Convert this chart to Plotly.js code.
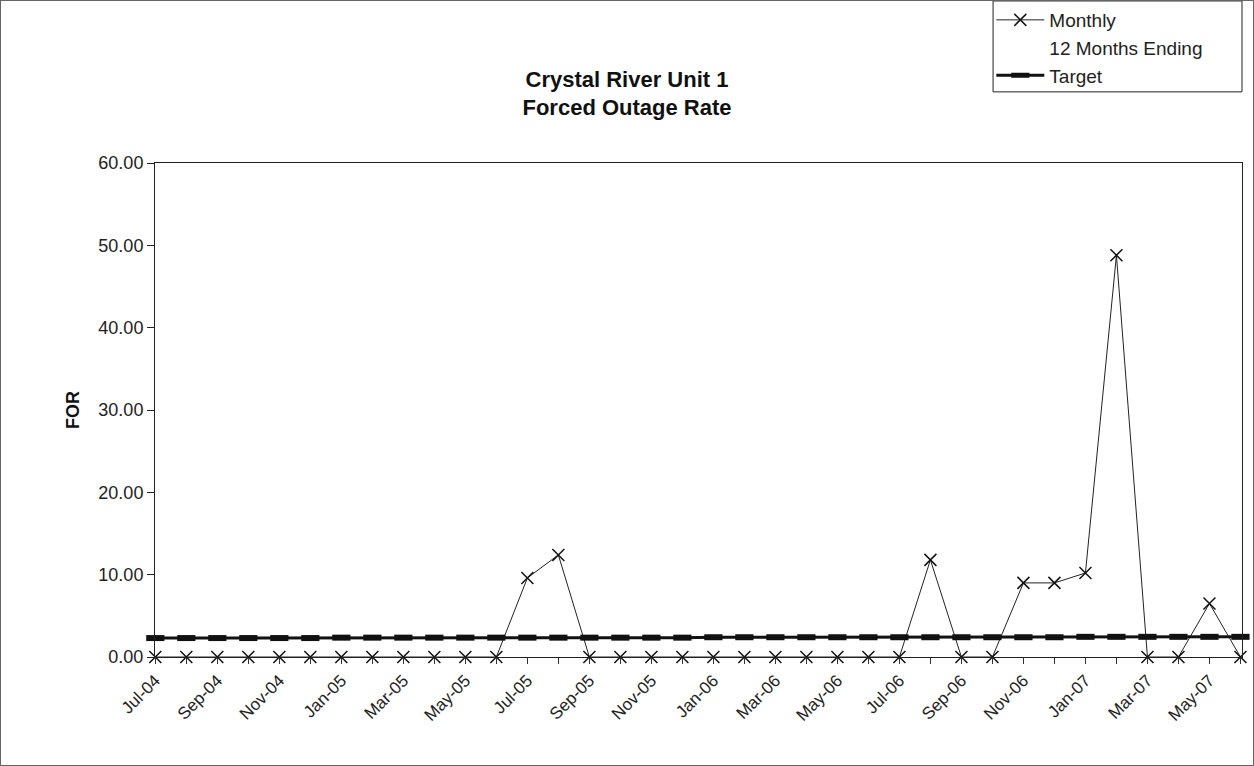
<!DOCTYPE html>
<html>
<head>
<meta charset="utf-8">
<script src="https://cdn.plot.ly/plotly-3.0.1.min.js"></script>
<style>
  html, body { margin: 0; padding: 0; background: #fff; }
  #chart { width: 1254px; height: 766px; box-sizing: border-box; border: 1px solid #666; }
</style>
</head>
<body>
<div id="chart"></div>
<script>
// Categories (months)
const months = ["Jul-04","Aug-04","Sep-04","Oct-04","Nov-04","Dec-04",
  "Jan-05","Feb-05","Mar-05","Apr-05","May-05","Jun-05",
  "Jul-05","Aug-05","Sep-05","Oct-05","Nov-05","Dec-05",
  "Jan-06","Feb-06","Mar-06","Apr-06","May-06","Jun-06",
  "Jul-06","Aug-06","Sep-06","Oct-06","Nov-06","Dec-06",
  "Jan-07","Feb-07","Mar-07","Apr-07","May-07","Jun-07"];

// Series values
const monthlyFOR = [0,0,0,0,0,0, 0,0,0,0,0,0,
  9.6,12.4,0,0,0,0, 0,0,0,0,0,0,
  0,11.8,0,0,9.0,9.0, 10.2,48.8,0,0,6.5,0];
const twelveMonthsEnding = [null,null,null,null,null,null, null,null,null,null,null,null,
  null,null,null,null,null,null, null,null,null,null,null,null,
  null,null,null,null,null,null, null,null,null,null,null,null];
const targetFOR = [2.3,2.3,2.3,2.3,2.3,2.3, 2.35,2.35,2.35,2.35,2.35,2.35,
  2.35,2.35,2.35,2.35,2.35,2.35, 2.4,2.4,2.4,2.4,2.4,2.4,
  2.4,2.4,2.4,2.4,2.4,2.4, 2.45,2.45,2.45,2.45,2.45,2.45];

// Tick labels (every other month shown)
const tickLabels = months.map((m, i) => (i % 2 === 0 ? m : ""));
const tickIdx = months.map((m, i) => i);

const FONT = "Liberation Sans, Arial, sans-serif";

const traces = [
  {
    name: "Monthly", x: months, y: monthlyFOR, type: "scatter", mode: "lines+markers",
    line: { color: "#222", width: 1 },
    marker: { symbol: "x-thin", size: 12, color: "#111", line: { color: "#111", width: 1.5 } },
    cliponaxis: false
  },
  {
    name: "12 Months Ending", x: months, y: twelveMonthsEnding, type: "scatter", mode: "lines",
    line: { color: "rgba(0,0,0,0)", width: 1 }, cliponaxis: false
  },
  {
    name: "Target", x: months, y: targetFOR, type: "scatter", mode: "lines+markers",
    line: { color: "#111", width: 3 },
    marker: { symbol: "line-ew", size: 13, color: "#111", line: { color: "#111", width: 6 } },
    cliponaxis: false
  }
];

const layout = {
  width: 1252, height: 764,
  paper_bgcolor: "#fff", plot_bgcolor: "#fff",
  margin: { l: 154, r: 11, t: 162, b: 108, autoexpand: false },
  font: { family: FONT, size: 17, color: "#222" },
  title: {
    text: "<b>Crystal River Unit 1<br>Forced Outage Rate</b>",
    font: { family: FONT, size: 22, color: "#111" },
    x: 0.5, xref: "container", xanchor: "center",
    y: 0.888, yref: "container", yanchor: "top"
  },
  showlegend: true,
  legend: {
    xref: "container", yref: "container",
    x: 0.791, xanchor: "left", y: 1.0, yanchor: "top",
    borderwidth: 0, bgcolor: "rgba(0,0,0,0)",
    font: { family: FONT, size: 19, color: "#222" },
    tracegroupgap: 0, itemwidth: 48
  },
  shapes: [
    { type: "rect", xref: "paper", yref: "paper", x0: 0.771, x1: 1.0, y0: 1.144, y1: 1.328,
      line: { color: "#222", width: 1 }, fillcolor: "rgba(0,0,0,0)", layer: "above" }
  ],
  xaxis: {
    type: "category", range: [-0.01, 35.05],
    tickmode: "array", tickvals: months, ticktext: tickLabels,
    tickangle: -45, ticks: "outside", ticklen: 6, tickcolor: "#333", tickwidth: 1,
    showline: true, linecolor: "#222", linewidth: 1, mirror: true,
    showgrid: false, zeroline: false,
    tickfont: { family: FONT, size: 17, color: "#222" }
  },
  xaxis2: {
    type: "linear", range: [-0.01, 35.05], overlaying: "x", anchor: "y", side: "bottom",
    tickmode: "array", tickvals: tickIdx, ticks: "inside", ticklen: 6, tickcolor: "#333",
    showticklabels: false, showline: false, showgrid: false, zeroline: false
  },
  yaxis: {
    range: [0, 60], dtick: 10, tick0: 0, tickformat: ".2f",
    ticks: "outside", ticklen: 7, tickcolor: "#222",
    showline: true, linecolor: "#222", linewidth: 1, mirror: true,
    showgrid: false, zeroline: false,
    tickfont: { family: FONT, size: 18, color: "#222" },
    title: { text: "<b>FOR</b>", font: { family: FONT, size: 18, color: "#111" }, standoff: 14 }
  },
  yaxis2: {
    range: [0, 60], dtick: 10, tick0: 0, overlaying: "y", anchor: "x", side: "left",
    ticks: "inside", ticklen: 7, tickcolor: "#222",
    showticklabels: false, showline: false, showgrid: false, zeroline: false
  }
};

Plotly.newPlot("chart", traces, layout, { displayModeBar: false, staticPlot: true });
</script>
</body>
</html>
